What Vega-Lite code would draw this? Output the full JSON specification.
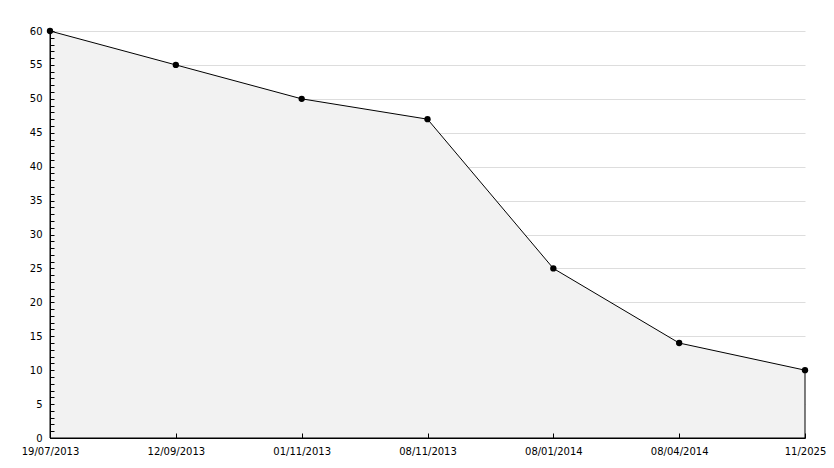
{
  "$schema": "https://vega.github.io/schema/vega-lite/v6.json",
  "autosize": "none",
  "width": 755,
  "height": 407,
  "padding": {"left": 50, "top": 31, "right": 29, "bottom": 30},
  "background": "white",
  "view": {"stroke": null},
  "data": {
    "values": [
      {"date": "19/07/2013", "value": 60},
      {"date": "12/09/2013", "value": 55},
      {"date": "01/11/2013", "value": 50},
      {"date": "08/11/2013", "value": 47},
      {"date": "08/01/2014", "value": 25},
      {"date": "08/04/2014", "value": 14},
      {"date": "11/2025", "value": 10}
    ]
  },
  "encoding": {
    "x": {
      "field": "date",
      "type": "ordinal",
      "sort": null,
      "scale": {"type": "point", "padding": 0},
      "axis": {
        "title": null,
        "zindex": 1,
        "labelAngle": 0,
        "labelFont": "DejaVu Sans",
        "labelFontSize": 10,
        "labelColor": "#000000",
        "labelOverlap": false,
        "labelFlush": false,
        "labelBaseline": "top",
        "domainColor": "#000000",
        "domainWidth": 1,
        "tickColor": "#000000",
        "tickSize": -5,
        "labelPadding": 13,
        "grid": false
      }
    }
  },
  "layer": [
    {
      "mark": {"type": "area", "color": "#f2f2f2", "stroke": "#000000", "strokeWidth": 1},
      "encoding": {
        "y": {
          "field": "value",
          "type": "quantitative",
          "scale": {"domain": [0, 60], "nice": false},
          "axis": {
            "orient": "right",
            "title": null,
            "zindex": 0,
            "values": [5,10,15,20,25,30,35,40,45,50,55,60],
            "labels": false,
            "ticks": false,
            "domain": false,
            "grid": true,
            "gridColor": "#dddddd"
          }
        }
      }
    },
    {
      "mark": {"type": "point", "shape": "circle", "filled": true, "color": "#000000", "size": 40, "opacity": 1},
      "encoding": {
        "y": {
          "field": "value",
          "type": "quantitative",
          "scale": {"domain": [0, 60], "nice": false},
          "axis": {
            "orient": "left",
            "title": null,
            "zindex": 1,
            "values": [0,1,2,3,4,5,6,7,8,9,10,11,12,13,14,15,16,17,18,19,20,21,22,23,24,25,26,27,28,29,30,31,32,33,34,35,36,37,38,39,40,41,42,43,44,45,46,47,48,49,50,51,52,53,54,55,56,57,58,59,60],
            "labelExpr": "datum.value % 5 === 0 ? datum.label : ''",
            "labelFont": "DejaVu Sans",
            "labelFontSize": 10,
            "labelColor": "#000000",
            "labelOverlap": false,
            "labelFlush": false,
            "labelPadding": 12,
            "domainColor": "#000000",
            "tickColor": "#000000",
            "tickSize": -4,
            "grid": false
          }
        }
      }
    }
  ],
  "resolve": {"axis": {"y": "independent"}, "scale": {"y": "shared"}}
}
